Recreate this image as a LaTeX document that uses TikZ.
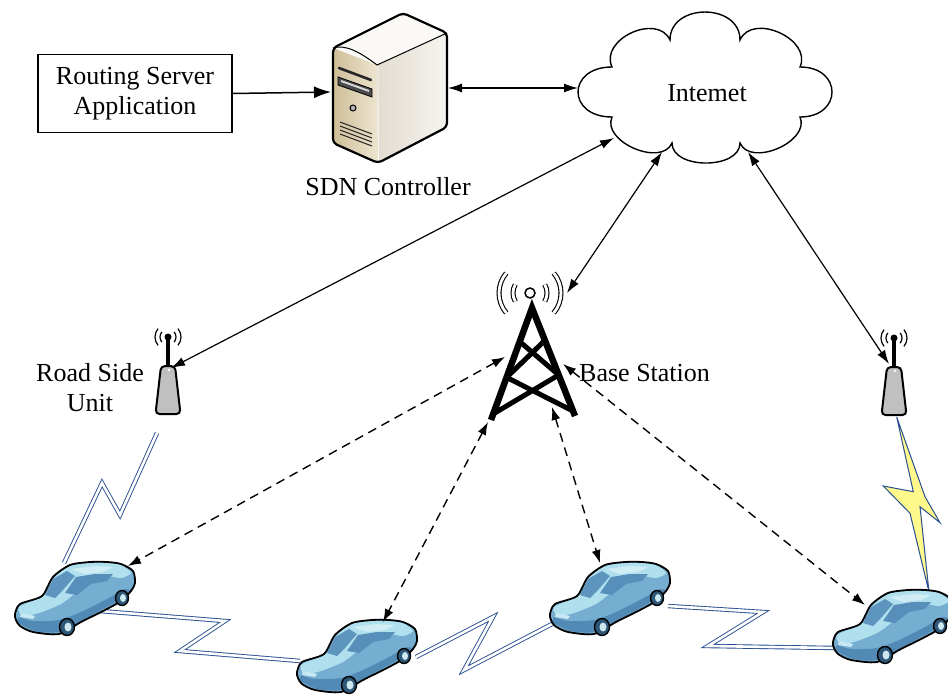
\documentclass[tikz,border=0pt]{standalone}
\usepackage{fontspec}
\setmainfont{Liberation Serif}
\newfontfamily\lblfont{Liberation Serif}
\usetikzlibrary{arrows.meta}

\definecolor{linkblue}{RGB}{40,78,145}
\definecolor{boltyellow}{RGB}{255,249,140}
\definecolor{carlight}{RGB}{176,224,238}
\definecolor{carmid}{RGB}{118,174,210}
\definecolor{cardark}{RGB}{82,138,182}
\definecolor{tyre}{RGB}{46,86,118}
\definecolor{hubc}{RGB}{205,232,240}
\definecolor{srvtop}{RGB}{250,249,246}
\definecolor{srvtan}{RGB}{206,190,152}
\definecolor{srvtanlt}{RGB}{238,229,208}
\definecolor{srvside}{RGB}{226,220,208}
\definecolor{srvsidelt}{RGB}{246,244,240}
\definecolor{rsugrey}{RGB}{192,192,192}

\tikzset{
  lbl/.style={font=\lblfont\fontsize{26}{30}\selectfont, inner sep=0pt},
  solidarrow/.style={line width=1.5pt, -{Latex[length=17pt,width=12pt]}},
  twoway/.style={line width=1.2pt, {Latex[length=14pt,width=9pt]}-{Latex[length=14pt,width=9pt]}},
  radiolink/.style={line width=1.4pt, dash pattern=on 9pt off 6pt,
    {Latex[length=13pt,width=9pt]}-{Latex[length=13pt,width=9pt]}},
  wireless/.style={draw=linkblue, line width=0.9pt, double=white,
    double distance=2.6pt, line join=miter},
  towerline/.style={line width=6.5pt, line join=miter, line cap=butt},
  towerbrace/.style={line width=5pt, line cap=round},
  wave/.style={line width=1.1pt, double=white, double distance=2.8pt},
  % roadside unit: origin at the antenna tip
  rsupic/.pic={
    \draw[line width=1.2pt] (140:8) arc[start angle=140, end angle=220, radius=8];
    \draw[line width=1.2pt] (140:13) arc[start angle=140, end angle=220, radius=13];
    \draw[line width=1.2pt] (-40:8) arc[start angle=-40, end angle=40, radius=8];
    \draw[line width=1.2pt] (-40:13) arc[start angle=-40, end angle=40, radius=13];
    \draw[line width=4pt] (0,0) -- (0,-31);
    \filldraw[fill=rsugrey, line width=2pt, rounded corners=4pt]
      (-7,-29) -- (7,-29) -- (12.5,-77) -- (-12.5,-77) -- cycle;
    \fill[white] (1,-33) circle (1.3);
    \fill (0,0) circle (3.5);
  },
  % car seen from the front left, origin at the top left corner
  carpic/.pic={
    \fill[carmid] plot[smooth cycle, tension=0.45] coordinates {(0,-52) (5,-42) (27,-34) (38,-15) (55,-3) (75,0) (92,0) (106,-2) (118,-9) (120,-21) (116,-29) (106,-39) (90,-48) (66,-60) (44,-72) (18,-70) (5,-64) (1,-58)};
    \fill[carlight] plot[smooth cycle, tension=0.45] coordinates {(4,-45) (26,-35) (31,-25) (38,-16) (55,-4) (75,-1) (92,-1) (106,-3) (116,-11) (106,-16) (92,-14) (80,-18) (62,-30) (46,-42) (24,-51) (8,-54)};
    \fill[cardark!70!carmid] (30,-33) -- (38,-17) -- (52,-9) -- (60,-14) -- (48,-28) -- (40,-36) -- cycle;
    \fill[carlight!60!white] (56,-7) -- (80,-4) -- (98,-5) -- (88,-10) -- (70,-12) -- cycle;
    \fill[cardark!85!carmid] (50,-31) -- (61,-15) -- (80,-12) -- (98,-12) -- (92,-19) -- (76,-22) -- (62,-33) -- cycle;
    \fill[cardark] plot[smooth, tension=0.45] coordinates {(2,-60) (20,-69) (44,-70) (66,-59) (90,-46) (106,-37) (117,-28)}
      -- plot[smooth, tension=0.45] coordinates {(110,-27) (90,-38) (66,-50) (44,-58) (18,-59) (4,-55)} -- cycle;
    \fill[carlight!70!white] (6,-51) -- (20,-54) -- (18,-57) -- (5,-55) -- cycle;
    \draw[black, line width=1.8pt, line join=round] plot[smooth cycle, tension=0.45] coordinates {(0,-52) (5,-42) (27,-34) (38,-15) (55,-3) (75,0) (92,0) (106,-2) (118,-9) (120,-21) (116,-29) (106,-39) (90,-48) (66,-60) (44,-72) (18,-70) (5,-64) (1,-58)};
    \filldraw[fill=tyre, line width=1.4pt] (52,-65) ellipse [x radius=7.5, y radius=8.5];
    \fill[hubc] (53,-65) ellipse [x radius=3.5, y radius=4.5];
    \filldraw[fill=tyre, line width=1.4pt] (107,-36) ellipse [x radius=6.5, y radius=7.5];
    \fill[hubc] (108,-36) ellipse [x radius=3, y radius=4];
  }
}

\begin{document}
\begin{tikzpicture}[x=1pt, y=1pt]
\useasboundingbox (0,0) rectangle (948,-698);
\fill[white] (0,0) rectangle (948,-698);

% ---------- routing server application ----------
\node[lbl, draw, line width=1.4pt, minimum width=194pt, minimum height=78pt, align=center]
  (rsa) at (135,-93.5) {Routing Server\\Application};

% ---------- internet cloud ----------
\draw[line width=1.4pt, fill=white] (612,-117)
  .. controls (566.7,-117) and (566.7,-67) .. (612,-67)
  .. controls (599.2,-39.4) and (657.2,-12.4) .. (670,-40)
  .. controls (670,-2.7) and (740,-2.7) .. (740,-40)
  .. controls (752.5,-12.2) and (812.5,-39.2) .. (800,-67)
  .. controls (842.7,-67) and (842.7,-117) .. (800,-117)
  .. controls (810.6,-141.5) and (750.6,-167.5) .. (740,-143)
  .. controls (740,-169.7) and (672,-169.7) .. (672,-143)
  .. controls (661.4,-167.5) and (601.4,-141.5) .. (612,-117) -- cycle;
\node[lbl, align=center] (net) at (707,-93) {Intemet};
\coordinate (cloudL) at (578,-88);
\coordinate (cloudA) at (614,-138);
\coordinate (cloudB) at (662,-152);
\coordinate (cloudC) at (748,-152);

% ---------- labels ----------
\node[lbl, align=center] (sdnlbl) at (388,-187) {SDN Controller};
\node[lbl, align=center] (rsulbl) at (90,-388) {Road Side\\Unit};
\node[lbl, align=left, anchor=west] (bslbl) at (579,-373) {Base Station};

% ---------- SDN controller (tower server) ----------
\fill[srvtop] (333,-48) -- (403,-13) -- (447,-33) -- (377,-65) -- cycle;
\shade[left color=srvtan, right color=srvtanlt] (333,-48) -- (377,-65) -- (378,-163) -- (333,-143) -- cycle;
\shade[left color=srvside, right color=srvsidelt] (377,-65) -- (447,-33) -- (447,-127) -- (378,-163) -- cycle;
\draw[line width=1pt] (333,-48) .. controls (345,-44) and (360,-52) .. (377,-65) -- (447,-33);
\draw[line width=0.6pt, white] (378,-66) -- (378.5,-162);
\draw[line width=2.2pt, line join=round, rounded corners=4pt]
  (333,-48) -- (403,-13) -- (447,-33) -- (447,-127) -- (378,-163) -- (333,-143) -- cycle;
\draw[line width=2.6pt, line cap=round, black!85] (339,-68) -- (371,-80);
\filldraw[fill=black!70, draw=black, line width=0.8pt] (338,-77) -- (372,-89) -- (372,-97) -- (338,-85) -- cycle;
\fill[white!85!black] (341,-80) -- (369,-90) -- (369,-92) -- (341,-82) -- cycle;
\filldraw[fill=gray!60, line width=1pt] (353,-108) circle (3);
\foreach \k in {0,4,8,12}
  \draw[line width=1pt, black!85] (340,-122-\k) -- (372,-134-\k);
\coordinate (srvL) at (331,-92);
\coordinate (srvR) at (448,-88);

% ---------- road side units ----------
\pic at (168,-337) {rsupic};
\pic at (894,-338) {rsupic};
\coordinate (rsuLtop) at (171,-368);
\coordinate (rsuRtop) at (889,-364);

% ---------- base station ----------
\draw[line width=1.5pt] (530,-293) circle (5);
\draw[wave] (530,-293) ++(150:17) arc[start angle=150, end angle=210, radius=17];
\draw[wave] (530,-293) ++(140:31) arc[start angle=140, end angle=220, radius=31];
\draw[wave] (530,-293) ++(-30:17) arc[start angle=-30, end angle=30, radius=17];
\draw[wave] (530,-293) ++(-40:31) arc[start angle=-40, end angle=40, radius=31];
\draw[towerline] (491,-420) -- (532,-308) -- (575,-416);
\draw[towerbrace] (519.7,-341.6) -- (558.7,-375) (544.9,-340.4) -- (506.6,-377.4);
\draw[towerbrace] (506.6,-377.4) -- (573,-411) (558.7,-375) -- (493,-414);
\coordinate (bsTop) at (567,-293);
\coordinate (bsA) at (505,-357);
\coordinate (bsB) at (488,-422);
\coordinate (bsC) at (552,-407);
\coordinate (bsD) at (563,-364);

% ---------- vehicles ----------
\coordinate (car1) at (15,-562);
\coordinate (car2) at (297,-620);
\coordinate (car3) at (550,-562);
\coordinate (car4) at (833,-590);
\coordinate (car1in) at (128,-566);
\coordinate (car2in) at (383,-622);
\coordinate (car3in) at (600,-563);
\coordinate (car4in) at (865,-605);

% wireless links between units and vehicles
\draw[wireless] (157,-433) -- (120,-515) -- (102,-483) -- (64,-563);
\draw[wireless] (100,-611) -- (225,-621) -- (180,-651) -- (300,-661);
\draw[wireless] (416,-657) -- (493,-617) -- (464,-670) -- (552,-624);
\draw[wireless] (668,-606) -- (763,-612) -- (708,-646) -- (836,-648);
\filldraw[fill=boltyellow, draw=linkblue, line width=1pt, line join=miter]
  (896.7,-417) -- (925,-496.7) -- (940,-522.7) -- (920,-506.7) -- (929,-592)
  -- (910,-513.3) -- (883.3,-486) -- (913.3,-491.7) -- cycle;

\pic at (car1) {carpic};
\pic at (car2) {carpic};
\pic at (car3) {carpic};
\pic at (car4) {carpic};

% ---------- connectors ----------
\draw[solidarrow] (rsa.east) -- (srvL);
\draw[twoway] (srvR) -- (cloudL);
\draw[twoway] (cloudA) -- (rsuLtop);
\draw[twoway] (cloudB) -- (bsTop);
\draw[twoway] (cloudC) -- (rsuRtop);
\draw[radiolink] (bsA) -- (car1in);
\draw[radiolink] (bsB) -- (car2in);
\draw[radiolink] (bsC) -- (car3in);
\draw[radiolink] (bsD) -- (car4in);
\end{tikzpicture}
\end{document}
